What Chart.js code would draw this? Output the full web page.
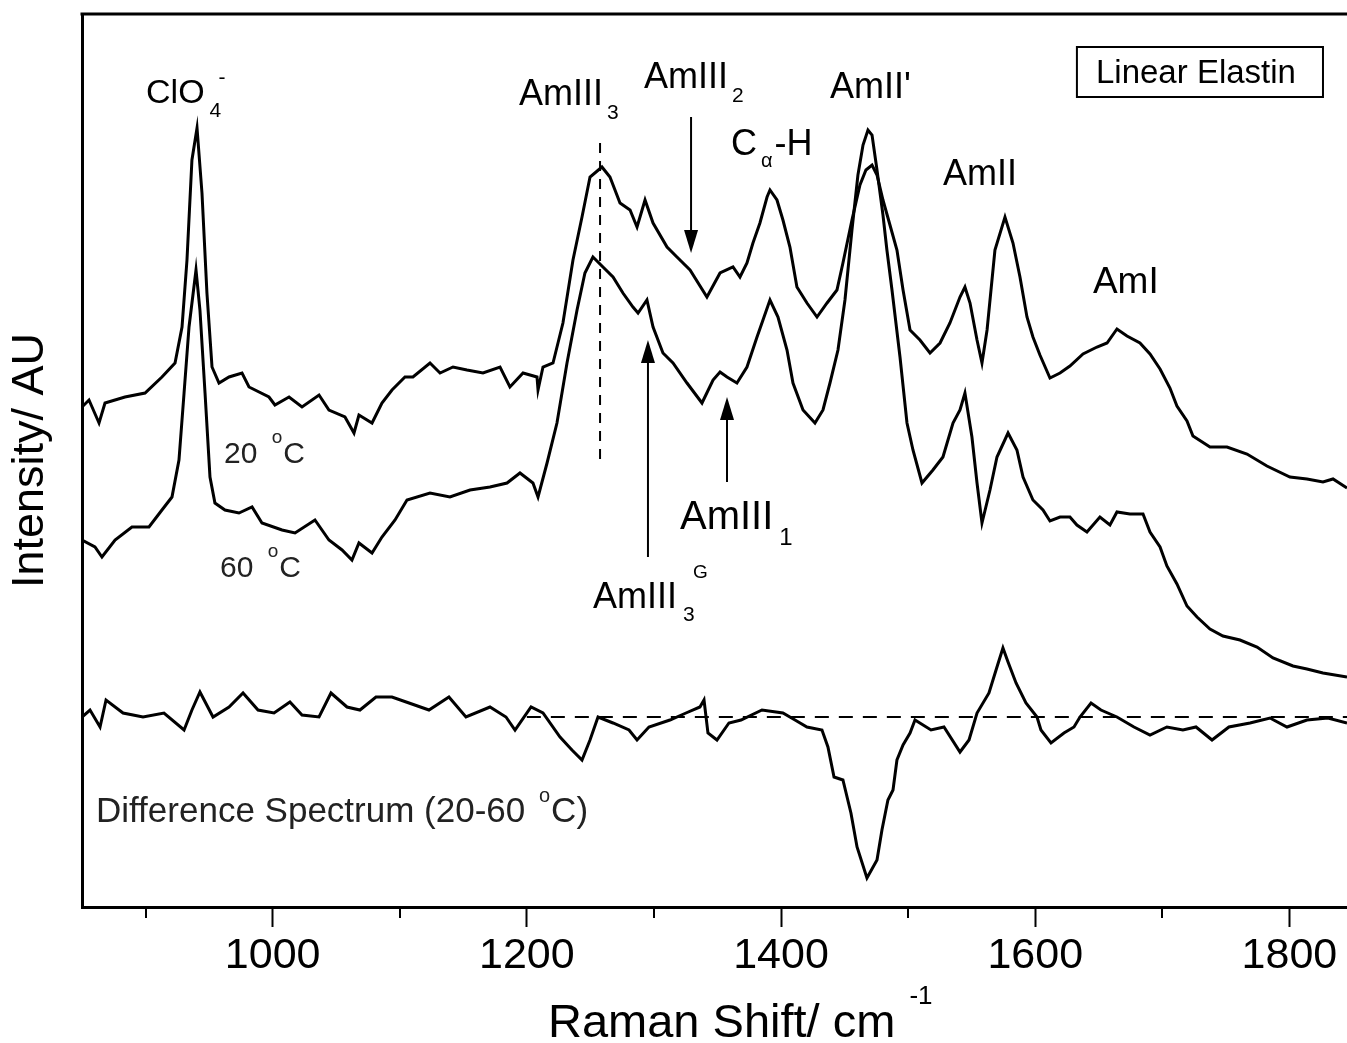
<!DOCTYPE html>
<html>
<head>
<meta charset="utf-8">
<script src="https://cdn.jsdelivr.net/npm/chart.js@4.4.1/dist/chart.umd.min.js"></script>
<style>
  html, body { margin: 0; padding: 0; background: #fff; overflow: hidden; }
  canvas { display: block; }
</style>
</head>
<body>
<canvas id="ramanChart" width="1347" height="1043"></canvas>
<script>
// Raman shift (cm-1) and intensity (AU, arbitrary offset)
const shift20 = [850, 855.5, 863.4, 868.1, 883.8, 899.6, 912.9, 923.2, 928.7, 932.6, 936.5, 940.5, 944.4, 948.3, 952.3, 957.8, 965.7, 975.9, 981.4, 997.1, 1001.8, 1012.9, 1023.1, 1036.5, 1044.3, 1056.9, 1064.0, 1067.9, 1078.2, 1086.0, 1093.9, 1104.1, 1110.4, 1123.8, 1131.7, 1141.9, 1152.9, 1165.5, 1178.9, 1186.7, 1197.0, 1208.0, 1208.8, 1212.7, 1220.6, 1228.4, 1236.3, 1243.4, 1249.7, 1259.1, 1265.4, 1273.3, 1281.2, 1286.7, 1293.0, 1299.3, 1310.3, 1318.1, 1328.4, 1341.7, 1352.0, 1362.2, 1367.7, 1373.2, 1377.9, 1383.4, 1389.0, 1391.3, 1396.8, 1401.5, 1407.0, 1412.5, 1420.4, 1428.3, 1436.2, 1444.0, 1448.7, 1455.8, 1462.1, 1466.8, 1471.6, 1475.5, 1480.2, 1485.7, 1491.2, 1496.0, 1501.5, 1509.3, 1517.2, 1525.1, 1532.9, 1540.8, 1544.7, 1548.7, 1554.2, 1558.1, 1562.1, 1568.3, 1576.2, 1582.5, 1588.0, 1593.5, 1598.2, 1603.7, 1611.6, 1619.5, 1627.3, 1637.6, 1648.6, 1656.5, 1664.3, 1672.2, 1682.4, 1690.3, 1698.2, 1706.0, 1711.5, 1719.4, 1724.1, 1737.5, 1750.9, 1766.6, 1782.3, 1800.4, 1813.8, 1826.4, 1834.3, 1845.3];
const int20 = [500, 507, 484, 504, 510, 514, 530, 544, 580, 647, 747, 779, 714, 614, 540, 524, 530, 534, 520, 510, 502, 510, 500, 512, 497, 490, 474, 492, 484, 504, 517, 530, 530, 544, 534, 540, 537, 534, 540, 520, 534, 530, 517, 540, 544, 584, 647, 690, 730, 740, 730, 704, 697, 680, 707, 684, 660, 650, 637, 610, 634, 640, 630, 644, 664, 684, 710, 717, 707, 687, 660, 620, 604, 590, 604, 617, 644, 687, 722, 737, 742, 732, 707, 682, 657, 617, 577, 567, 554, 564, 584, 610, 620, 604, 567, 544, 577, 657, 690, 664, 630, 590, 570, 552, 529, 534, 541, 553, 560, 564, 578, 571, 564, 553, 538, 519, 501, 486, 471, 460, 460, 453, 441, 430, 428, 425, 428, 419];

const shift60 = [850, 860.2, 865.7, 876.0, 889.3, 902.7, 912.9, 920.8, 926.3, 930.3, 934.2, 939.7, 942.8, 946.8, 950.7, 954.6, 962.5, 973.5, 983.8, 991.6, 1007.4, 1017.6, 1033.3, 1044.3, 1054.6, 1062.4, 1067.9, 1078.2, 1086.0, 1096.3, 1105.7, 1123.8, 1139.5, 1155.3, 1171.0, 1184.4, 1194.6, 1204.8, 1208.8, 1215.9, 1223.7, 1231.6, 1239.5, 1245.7, 1252.0, 1259.9, 1267.8, 1275.6, 1283.5, 1287.5, 1294.5, 1299.3, 1307.1, 1315.0, 1326.0, 1337.8, 1346.5, 1352.0, 1357.5, 1365.3, 1373.2, 1381.1, 1385.8, 1391.3, 1397.6, 1404.7, 1409.4, 1417.3, 1426.7, 1433.0, 1438.5, 1444.8, 1450.3, 1455.8, 1460.5, 1464.5, 1468.4, 1471.6, 1475.5, 1480.2, 1483.3, 1487.3, 1493.6, 1499.1, 1503.8, 1510.9, 1519.5, 1527.4, 1535.3, 1540.8, 1544.7, 1550.2, 1554.2, 1558.1, 1564.4, 1569.9, 1578.6, 1585.6, 1590.4, 1598.2, 1606.1, 1611.6, 1619.5, 1627.3, 1632.8, 1640.7, 1650.9, 1658.8, 1664.3, 1674.5, 1684.8, 1690.3, 1698.2, 1703.6, 1711.5, 1719.4, 1727.3, 1737.5, 1747.7, 1761.1, 1774.5, 1787.1, 1802.8, 1813.8, 1826.4, 1845.3];
const int60 = [367, 360, 350, 367, 380, 380, 397, 410, 447, 514, 580, 637, 597, 514, 430, 404, 397, 394, 400, 384, 377, 374, 387, 367, 357, 347, 364, 354, 370, 387, 407, 414, 410, 417, 420, 424, 434, 424, 410, 444, 484, 544, 597, 634, 650, 640, 630, 614, 600, 594, 607, 580, 554, 544, 524, 504, 527, 535, 530, 524, 540, 570, 587, 607, 590, 557, 524, 497, 484, 497, 524, 557, 607, 677, 732, 762, 777, 772, 737, 692, 657, 617, 550, 484, 457, 424, 437, 450, 484, 497, 514, 470, 424, 384, 417, 450, 474, 457, 430, 407, 397, 386, 390, 390, 382, 375, 390, 382, 395, 393, 393, 375, 360, 341, 323, 301, 290, 278, 271, 267, 260, 249, 241, 238, 234, 230];

const shiftDiff = [850, 856.3, 864.2, 868.9, 882.3, 898.0, 914.5, 930.3, 936.5, 942.8, 953.1, 965.7, 976.7, 988.5, 1001.1, 1013.6, 1023.1, 1036.5, 1045.9, 1058.5, 1068.7, 1081.3, 1093.9, 1107.3, 1123.0, 1138.7, 1152.1, 1171.0, 1183.6, 1190.7, 1203.3, 1212.7, 1226.1, 1235.5, 1243.4, 1249.7, 1256.0, 1267.8, 1280.4, 1286.7, 1296.1, 1312.6, 1325.2, 1336.2, 1339.4, 1342.5, 1349.6, 1359.0, 1368.5, 1385.0, 1401.5, 1411.0, 1420.4, 1432.2, 1436.9, 1441.7, 1448.7, 1455.0, 1459.8, 1467.6, 1475.5, 1479.4, 1484.1, 1488.1, 1491.2, 1496.0, 1501.5, 1505.4, 1518.0, 1528.2, 1540.8, 1547.9, 1554.2, 1563.6, 1569.9, 1574.6, 1578.6, 1584.9, 1592.7, 1601.4, 1604.5, 1612.4, 1622.6, 1630.5, 1635.2, 1643.9, 1651.7, 1664.3, 1677.7, 1690.3, 1703.6, 1716.2, 1726.5, 1739.1, 1752.4, 1769.0, 1784.7, 1798.1, 1813.8, 1830.3, 1845.3];
const intDiff = [190, 197, 180, 207, 194, 190, 194, 177, 197, 215, 190, 200, 214, 197, 194, 205, 192, 190, 214, 200, 197, 210, 210, 204, 197, 210, 190, 200, 190, 177, 200, 194, 170, 157, 147, 167, 190, 184, 177, 167, 180, 187, 194, 200, 207, 174, 167, 184, 187, 197, 194, 187, 180, 177, 160, 130, 127, 94, 60, 29, 47, 77, 107, 117, 147, 162, 174, 187, 177, 180, 155, 167, 194, 214, 240, 259, 245, 224, 204, 190, 177, 164, 174, 180, 190, 204, 197, 190, 180, 172, 180, 177, 180, 167, 180, 184, 189, 180, 187, 189, 184];

// guide lines: AmIII3 marker and zero line of the difference spectrum
const amide3Shift = [1257.6, 1257.6];
const amide3Range = [764, 445];
const zeroShift = [1200, 1845.3];
const zeroLevel = [190, 190];

const xTickValues = [1000, 1200, 1400, 1600, 1800];
const xMinorTicks = [900, 1100, 1300, 1500, 1700];

const FONT = '"Liberation Sans", Arial, Helvetica, sans-serif';

function pairs(xs, ys) {
    return xs.map((x, i) => ({ x: x, y: ys[i] }));
}

// peak labels, anchored in data coordinates; parts carry sub/superscripts
const peakLabels = [
    { x: 900.4, y: 804, parts: [{ t: 'ClO', s: 34 }, { t: '4', s: 21, dx: 5, dy: 14, hold: true }, { t: '-', s: 21, dx: 14, dy: -19 }] },
    { x: 1193.8, y: 802, parts: [{ t: 'AmIII', s: 36 }, { t: '3', s: 21, dx: 4, dy: 14 }] },
    { x: 1292.2, y: 819, parts: [{ t: 'AmIII', s: 36 }, { t: '2', s: 21, dx: 4, dy: 14 }] },
    { x: 1360.6, y: 752, parts: [{ t: 'C', s: 36 }, { t: '\u03b1', s: 20, dx: 4, dy: 12 }, { t: '-H', s: 36, dx: 2 }] },
    { x: 1438.5, y: 809, parts: [{ t: "AmII'", s: 36 }] },
    { x: 1527.4, y: 722, parts: [{ t: 'AmII', s: 36 }] },
    { x: 1645.4, y: 614, parts: [{ t: 'AmI', s: 37 }] },
    { x: 1320.5, y: 378, parts: [{ t: 'AmIII', s: 40 }, { t: '1', s: 24, dx: 6, dy: 16 }] },
    { x: 1252.0, y: 299, parts: [{ t: 'AmIII', s: 36 }, { t: '3', s: 21, dx: 6, dy: 13, hold: true }, { t: 'G', s: 19, dx: 16, dy: -30 }] },
    { x: 961.7, y: 444, color: '#222', parts: [{ t: '20 ', s: 30 }, { t: 'o', s: 19, dx: 6, dy: -20 }, { t: 'C', s: 30, dx: 1 }] },
    { x: 958.6, y: 330, color: '#222', parts: [{ t: '60 ', s: 30 }, { t: 'o', s: 19, dx: 6, dy: -20 }, { t: 'C', s: 30, dx: 1 }] },
    { x: 861.0, y: 85, color: '#222', parts: [{ t: 'Difference Spectrum (20-60 ', s: 35 }, { t: 'o', s: 20, dx: 4, dy: -20 }, { t: 'C)', s: 35, dx: 1 }] }
];

// arrows: [shift, tail intensity, tip intensity]
const arrows = [
    [1329.2, 790, 654],
    [1295.3, 350, 567],
    [1357.5, 425, 510]
];

function drawParts(ctx, x, y, parts) {
    let pen = x;
    parts.forEach(p => {
        ctx.font = p.s + 'px ' + FONT;
        const px = pen + (p.dx || 0);
        ctx.fillText(p.t, px, y + (p.dy || 0));
        if (!p.hold) pen = px + ctx.measureText(p.t).width;
    });
}

const annotationPlugin = {
    id: 'annotations',
    afterDraw(chart) {
        const ctx = chart.ctx;
        const xs = chart.scales.x;
        const ys = chart.scales.y;
        const area = chart.chartArea;
        ctx.save();

        // top frame line
        ctx.strokeStyle = '#000';
        ctx.lineWidth = 3;
        ctx.beginPath();
        ctx.moveTo(area.left - 1.5, area.top);
        ctx.lineTo(chart.width, area.top);
        ctx.stroke();

        // minor ticks
        ctx.lineWidth = 2;
        xMinorTicks.forEach(v => {
            const px = Math.round(xs.getPixelForValue(v));
            ctx.beginPath();
            ctx.moveTo(px, area.bottom);
            ctx.lineTo(px, area.bottom + 11);
            ctx.stroke();
        });

        // arrows
        ctx.fillStyle = '#000';
        arrows.forEach(a => {
            const px = xs.getPixelForValue(a[0]);
            const tail = ys.getPixelForValue(a[1]);
            const tip = ys.getPixelForValue(a[2]);
            const dir = tip > tail ? 1 : -1;
            ctx.lineWidth = 2;
            ctx.beginPath();
            ctx.moveTo(px, tail);
            ctx.lineTo(px, tip - dir * 20);
            ctx.stroke();
            ctx.beginPath();
            ctx.moveTo(px, tip);
            ctx.lineTo(px - 7, tip - dir * 23);
            ctx.lineTo(px + 7, tip - dir * 23);
            ctx.closePath();
            ctx.fill();
        });

        // labels
        ctx.textBaseline = 'alphabetic';
        ctx.textAlign = 'left';
        peakLabels.forEach(l => {
            ctx.fillStyle = l.color || '#000';
            drawParts(ctx, xs.getPixelForValue(l.x), ys.getPixelForValue(l.y), l.parts);
        });

        // Linear Elastin box
        const bx1 = xs.getPixelForValue(1632.8), bx2 = xs.getPixelForValue(1826.4);
        const by1 = ys.getPixelForValue(860), by2 = ys.getPixelForValue(810);
        ctx.lineWidth = 2;
        ctx.strokeRect(bx1, by1, bx2 - bx1, by2 - by1);
        ctx.fillStyle = '#000';
        ctx.font = '33px ' + FONT;
        ctx.fillText('Linear Elastin', xs.getPixelForValue(1647.8), ys.getPixelForValue(824));

        // x axis title with superscript
        ctx.font = '47px ' + FONT;
        const main = 'Raman Shift/ cm';
        ctx.fillText(main, 548, 1037);
        const w = ctx.measureText(main).width;
        ctx.font = '26px ' + FONT;
        ctx.fillText('-1', 548 + w + 14, 1004);

        ctx.restore();
    }
};

const ctx = document.getElementById('ramanChart').getContext('2d');
const lineStyle = { borderColor: '#000', borderWidth: 3, pointRadius: 0, tension: 0, fill: false };
const ramanChart = new Chart(ctx, {
    type: 'line',
    data: {
        datasets: [
            Object.assign({ label: '20 \u00b0C', data: pairs(shift20, int20) }, lineStyle),
            Object.assign({ label: '60 \u00b0C', data: pairs(shift60, int60) }, lineStyle),
            Object.assign({ label: 'Difference', data: pairs(shiftDiff, intDiff) }, lineStyle),
            Object.assign({}, lineStyle, { label: 'AmIII3 marker', data: pairs(amide3Shift, amide3Range), borderWidth: 2, borderDash: [10, 8] }),
            Object.assign({}, lineStyle, { label: 'Zero line', data: pairs(zeroShift, zeroLevel), borderWidth: 2, borderDash: [14, 10] })
        ]
    },
    options: {
        responsive: false,
        devicePixelRatio: 1,
        animation: false,
        events: [],
        layout: { padding: { top: 14, right: 0, left: 0, bottom: 0 } },
        plugins: {
            colors: { enabled: false },
            legend: { display: false },
            tooltip: { enabled: false }
        },
        scales: {
            x: {
                type: 'linear',
                min: 850,
                max: 1845.3,
                afterBuildTicks: axis => { axis.ticks = xTickValues.map(v => ({ value: v })); },
                afterFit: axis => { axis.height = 136; },
                border: { display: true, width: 3, color: '#000' },
                grid: { display: true, drawOnChartArea: false, drawTicks: true, tickLength: 20, tickWidth: 2, tickColor: '#000' },
                ticks: {
                    color: '#000',
                    padding: 3,
                    maxRotation: 0,
                    font: { family: FONT, size: 43 },
                    callback: value => String(value)
                }
            },
            y: {
                type: 'linear',
                min: 0,
                max: 893,
                afterFit: axis => { axis.width = 82; },
                border: { display: true, width: 3, color: '#000' },
                grid: { display: false },
                ticks: { display: false },
                title: {
                    display: true,
                    text: 'Intensity/ AU',
                    color: '#000',
                    padding: { top: 4, bottom: 0 },
                    font: { family: FONT, size: 45 }
                }
            }
        }
    },
    plugins: [annotationPlugin]
});
</script>
</body>
</html>
